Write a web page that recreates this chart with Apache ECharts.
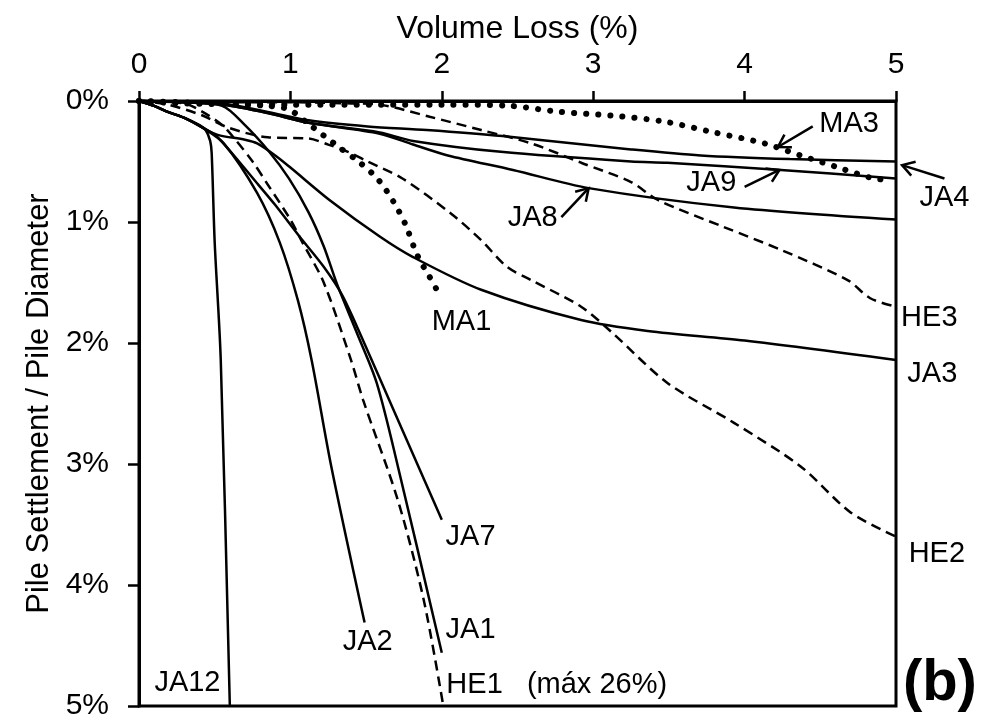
<!DOCTYPE html>
<html>
<head>
<meta charset="utf-8">
<script src="https://cdn.jsdelivr.net/npm/echarts@6/dist/echarts.min.js"></script>
<style>
  html, body { margin: 0; padding: 0; background: #fff; }
  #chart { width: 983px; height: 723px; }
</style>
</head>
<body>
<div id="chart"></div>
<script>
// volume loss (%) vs pile settlement / diameter (%)
const ja12 = [[0, 0], [0.10, 0.04], [0.19, 0.09], [0.30, 0.14], [0.40, 0.20], [0.44, 0.24], [0.47, 0.33], [0.48, 0.43], [0.50, 1.17], [0.54, 2.14], [0.60, 5.0]];
const ja2 = [[0, 0], [0.10, 0.04], [0.19, 0.09], [0.30, 0.14], [0.42, 0.22], [0.56, 0.35], [0.78, 0.76], [0.93, 1.17], [1.05, 1.65], [1.14, 2.14], [1.27, 3.02], [1.49, 4.31]];
const ja7 = [[0, 0], [0.10, 0.04], [0.19, 0.09], [0.30, 0.14], [0.42, 0.22], [0.52, 0.30], [0.78, 0.68], [0.90, 0.86], [1.06, 1.12], [1.22, 1.37], [1.34, 1.60], [1.47, 1.95], [1.68, 2.55], [2.0, 3.46]];
const ja1 = [[0, 0], [0.30, 0.01], [0.55, 0.04], [0.70, 0.20], [0.86, 0.42], [0.99, 0.64], [1.12, 0.92], [1.22, 1.20], [1.31, 1.52], [1.44, 1.92], [1.57, 2.33], [1.71, 3.02], [2.0, 4.56]];
const ja3 = [[0, 0], [0.10, 0.04], [0.19, 0.09], [0.30, 0.14], [0.42, 0.22], [0.52, 0.28], [0.70, 0.32], [0.78, 0.35], [0.90, 0.45], [1.00, 0.55], [1.26, 0.82], [1.59, 1.12], [1.81, 1.29], [2.26, 1.56], [2.92, 1.81], [3.36, 1.90], [4.0, 1.98], [5.0, 2.14]];
const ja4 = [[0, 0], [0.30, 0.01], [0.55, 0.02], [0.85, 0.09], [1.12, 0.16], [1.51, 0.21], [1.9, 0.24], [2.4, 0.29], [3.25, 0.40], [3.71, 0.45], [4.3, 0.48], [5.0, 0.50]];
const ja9 = [[0, 0], [0.30, 0.01], [0.55, 0.03], [0.85, 0.10], [1.12, 0.18], [1.59, 0.26], [1.81, 0.33], [2.39, 0.42], [3.25, 0.50], [3.49, 0.51], [4.24, 0.57], [5.0, 0.64]];
const ja8 = [[0, 0], [0.30, 0.01], [0.55, 0.03], [0.85, 0.10], [1.12, 0.18], [1.59, 0.27], [1.81, 0.36], [2.04, 0.45], [2.47, 0.57], [2.97, 0.72], [3.93, 0.88], [5.0, 0.98]];
const he1 = [[0, 0], [0.30, 0.02], [0.42, 0.09], [0.55, 0.20], [0.63, 0.31], [0.75, 0.50], [0.85, 0.69], [1.0, 0.98], [1.08, 1.17], [1.22, 1.50], [1.40, 2.14], [1.48, 2.47], [1.71, 3.30], [1.88, 4.12], [2.01, 5.0]];
const he2 = [[0, 0], [0.19, 0.03], [0.42, 0.12], [0.59, 0.22], [0.85, 0.30], [1.12, 0.31], [1.25, 0.36], [1.38, 0.42], [1.51, 0.50], [1.74, 0.64], [2.06, 0.93], [2.26, 1.15], [2.43, 1.37], [2.59, 1.48], [2.92, 1.70], [3.13, 1.92], [3.49, 2.33], [3.93, 2.66], [4.37, 3.02], [4.70, 3.40], [5.0, 3.60]];
const he3 = [[0, 0], [0.5, 0.01], [1.0, 0.01], [1.4, 0.02], [1.59, 0.03], [1.92, 0.13], [2.26, 0.24], [2.59, 0.35], [2.92, 0.51], [3.25, 0.67], [3.43, 0.82], [3.86, 1.04], [4.24, 1.23], [4.68, 1.48], [4.83, 1.63], [5.0, 1.70]];
const ma1 = [[0, 0], [0.5, 0.02], [0.85, 0.04], [0.99, 0.07], [1.12, 0.19], [1.33, 0.39], [1.46, 0.51], [1.58, 0.65], [1.68, 0.83], [1.76, 1.02], [1.82, 1.22], [1.86, 1.33], [1.90, 1.41], [1.98, 1.59]];
const ma3 = [[0, 0], [0.3, 0.02], [1.0, 0.03], [2.0, 0.03], [2.45, 0.04], [2.78, 0.09], [3.12, 0.12], [3.47, 0.17], [3.80, 0.26], [4.13, 0.35], [4.37, 0.45], [4.62, 0.55], [4.85, 0.64], [4.95, 0.65]];

const xTicks = [0, 1, 2, 3, 4, 5];
const yTicks = [0, 1, 2, 3, 4, 5];

// curve labels [text, x, y, align]
const curveLabels = [
  ['MA3', 4.69, 0.19, 'center'], ['JA9', 3.78, 0.68, 'center'], ['JA4', 5.32, 0.80, 'center'],
  ['JA8', 2.60, 0.97, 'center'], ['HE3', 5.22, 1.79, 'center'], ['JA3', 5.24, 2.26, 'center'],
  ['MA1', 2.13, 1.83, 'center'], ['JA7', 2.19, 3.60, 'center'], ['HE2', 5.27, 3.74, 'center'],
  ['JA1', 2.19, 4.37, 'center'], ['JA2', 1.51, 4.47, 'center'], ['JA12', 0.32, 4.81, 'center'],
  ['HE1   (máx 26%)', 2.03, 4.83, 'left']
];
const panelTag = ['(b)', 5.29, 4.82];
// arrows [x tail, y tail, x tip, y tip]
const arrows = [
  [4.45, 0.21, 4.22, 0.38],
  [4.00, 0.71, 4.23, 0.57],
  [5.32, 0.64, 5.04, 0.53],
  [2.79, 0.96, 2.97, 0.72]
];

const FONT = 'Liberation Sans, Arial, sans-serif';
const chart = echarts.init(document.getElementById('chart'));

function curve(name, data, kind) {
  const ls = { color: '#000', width: 2.5 };
  if (kind === 'dash') ls.type = [10, 6];
  if (kind === 'dot') { ls.type = [0.1, 12]; ls.cap = 'round'; ls.width = 6; }
  return {
    name: name, type: 'line', data: data, symbol: 'none', smooth: 0.3,
    lineStyle: ls, silent: true, clip: false, z: 3
  };
}

// text placed at data coordinates
function textSeries(items, font) {
  return {
    type: 'custom', clip: false, silent: true, z: 5,
    data: items.map(t => [t[1], t[2]]),
    encode: { x: 0, y: 1 },
    renderItem: function (params, api) {
      const p = api.coord([api.value(0), api.value(1)]);
      const it = items[params.dataIndex];
      return {
        type: 'text', x: p[0], y: p[1],
        style: {
          text: it[0], fill: '#000', font: font,
          align: it[3] || 'center', verticalAlign: 'middle'
        }
      };
    }
  };
}

const series = [
  curve('JA12', ja12), curve('JA2', ja2), curve('JA7', ja7), curve('JA1', ja1),
  curve('JA3', ja3), curve('JA4', ja4), curve('JA9', ja9), curve('JA8', ja8),
  curve('HE1', he1, 'dash'), curve('HE2', he2, 'dash'), curve('HE3', he3, 'dash'),
  curve('MA1', ma1, 'dot'), curve('MA3', ma3, 'dot'),
  textSeries(curveLabels, '29px ' + FONT),
  textSeries([panelTag], 'bold 58px ' + FONT),
  {
    type: 'custom', clip: false, silent: true, z: 4,
    encode: { x: [0, 2], y: [1, 3] },
    data: arrows,
    renderItem: function (params, api) {
      const a = api.coord([api.value(0), api.value(1)]);
      const b = api.coord([api.value(2), api.value(3)]);
      const ang = Math.atan2(b[1] - a[1], b[0] - a[0]);
      const L = 14, w = 0.55;
      const p1 = [b[0] - L * Math.cos(ang - w), b[1] - L * Math.sin(ang - w)];
      const p2 = [b[0] - L * Math.cos(ang + w), b[1] - L * Math.sin(ang + w)];
      const st = { stroke: '#000', lineWidth: 2.5, fill: null };
      return {
        type: 'group',
        children: [
          { type: 'line', shape: { x1: a[0], y1: a[1], x2: b[0], y2: b[1] }, style: st },
          { type: 'polyline', shape: { points: [p1, b, p2] }, style: st }
        ]
      };
    }
  }
];

chart.setOption({
  backgroundColor: '#fff',
  animation: false,
  textStyle: { fontFamily: FONT, color: '#000' },
  grid: {
    left: 139, right: 87, top: 101, bottom: 17,
    show: true, borderColor: '#000', borderWidth: 3, backgroundColor: 'transparent'
  },
  xAxis: {
    type: 'value', position: 'top', min: xTicks[0], max: xTicks[xTicks.length - 1], interval: 1,
    name: 'Volume Loss (%)', nameLocation: 'middle', nameGap: 56,
    nameTextStyle: { fontSize: 32, color: '#000', fontFamily: FONT },
    axisLine: { show: true, lineStyle: { color: '#000', width: 3 } },
    axisTick: { show: true, inside: false, length: 10, lineStyle: { color: '#000', width: 2.5 } },
    axisLabel: { fontSize: 30, color: '#000', margin: 21, fontFamily: FONT },
    splitLine: { show: false }
  },
  yAxis: {
    type: 'value', inverse: true, min: yTicks[0], max: yTicks[yTicks.length - 1], interval: 1,
    name: 'Pile Settlement / Pile Diameter', nameLocation: 'middle', nameGap: 84,
    nameTextStyle: { fontSize: 31, color: '#000', fontFamily: FONT },
    axisLine: { show: true, lineStyle: { color: '#000', width: 3 } },
    axisTick: { show: true, inside: false, length: 11, lineStyle: { color: '#000', width: 2.5 } },
    axisLabel: { fontSize: 30, color: '#000', margin: 30, formatter: '{value}%', fontFamily: FONT },
    splitLine: { show: false }
  },
  series: series
});
</script>
</body>
</html>
